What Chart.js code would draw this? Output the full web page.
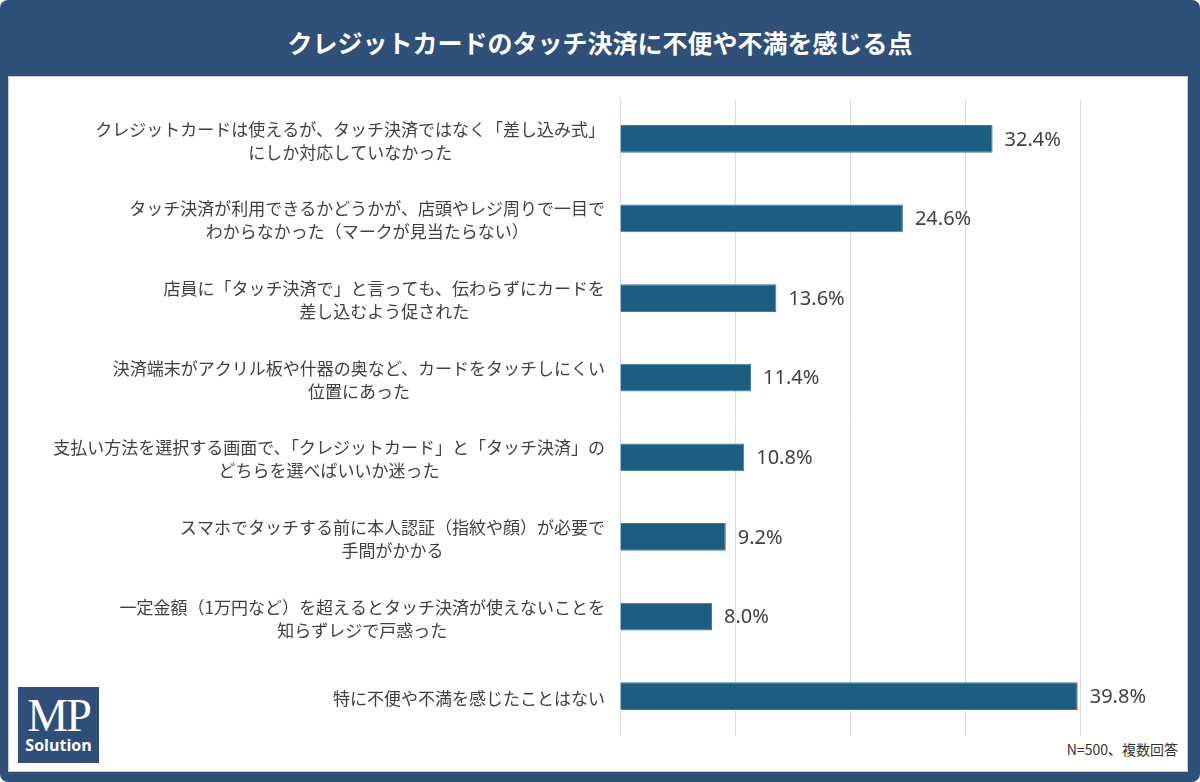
<!DOCTYPE html>
<html lang="ja">
<head>
<meta charset="utf-8">
<title>クレジットカードのタッチ決済に不便や不満を感じる点</title>
<script src="https://cdn.jsdelivr.net/npm/chart.js@4.4.1/dist/chart.umd.min.js"></script>
<style>
    html, body {
        margin: 0;
        padding: 0;
        background: #ffffff;
        font-family: "Noto Sans CJK JP", "Noto Sans", sans-serif;
    }
    #frame {
        position: relative;
        width: 1200px;
        height: 782px;
        background: #2f5078;
        border-radius: 8px;
        overflow: hidden;
    }
    #titulo {
        position: absolute;
        left: 0;
        top: 0;
        width: 1200px;
        height: 76px;
        line-height: 84px;
        text-align: center;
        color: #ffffff;
        font-size: 25px;
        font-weight: bold;
    }
    #panel {
        position: absolute;
        left: 8px;
        top: 76px;
        width: 1180px;
        height: 696px;
        background: #ffffff;
        border: 1px solid #c8ccd2;
        box-sizing: border-box;
    }
    #logo {
        position: absolute;
        left: 18px;
        top: 687px;
        width: 81px;
        height: 76px;
        background: #2f4f7a;
        color: #ffffff;
        text-align: center;
    }
    #logo .mp {
        font-family: "Liberation Serif", "DejaVu Serif", serif;
        font-size: 46px;
        line-height: 46px;
        margin-top: 6px;
        letter-spacing: -2px;
    }
    #logo .sol {
        font-family: "Open Sans", "Noto Sans", sans-serif;
        font-weight: bold;
        font-size: 16px;
        line-height: 18px;
        margin-top: -3px;
    }
    #nota {
        position: absolute;
        right: 22px;
        top: 739px;
        font-size: 14px;
        color: #333333;
    }
    #grafico {
        position: absolute;
        left: 0;
        top: 0;
    }
</style>
</head>
<body>
<div id="frame">
    <div id="titulo">クレジットカードのタッチ決済に不便や不満を感じる点</div>
    <div id="panel"></div>
    <div id="logo"><div class="mp">MP</div><div class="sol">Solution</div></div>
    <div id="nota">N=500、複数回答</div>
    <canvas id="grafico" width="1200" height="782"></canvas>
</div>

<script>
// categorias (cada una en lineas)
const categorias = [
    ["クレジットカードは使えるが、タッチ決済ではなく「差し込み式」", "にしか対応していなかった"],
    ["タッチ決済が利用できるかどうかが、店頭やレジ周りで一目で", "わからなかった（マークが見当たらない）"],
    ["店員に「タッチ決済で」と言っても、伝わらずにカードを", "差し込むよう促された"],
    ["決済端末がアクリル板や什器の奥など、カードをタッチしにくい", "位置にあった"],
    ["支払い方法を選択する画面で、「クレジットカード」と「タッチ決済」の", "どちらを選べばいいか迷った"],
    ["スマホでタッチする前に本人認証（指紋や顔）が必要で", "手間がかかる"],
    ["一定金額（1万円など）を超えるとタッチ決済が使えないことを", "知らずレジで戸惑った"],
    ["特に不便や不満を感じたことはない"]
];

// porcentajes
const valores = [32.4, 24.6, 13.6, 11.4, 10.8, 9.2, 8.0, 39.8];

// eje x (0-40, sin etiquetas visibles)
const ejeMin = 0;
const ejeMax = 40;
const ejePaso = 10;

const colorBarra = '#1b5e82';
const colorTexto = '#404040';

// Dibuja las etiquetas de categoria y los valores
const etiquetasPlugin = {
    id: 'etiquetas',
    afterDatasetsDraw(chart) {
        const ctx = chart.ctx;
        const yScale = chart.scales.y;
        const meta = chart.getDatasetMeta(0);

        ctx.save();
        ctx.fillStyle = colorTexto;

        // valores a la derecha de cada barra
        ctx.font = '20px "Noto Sans", "Open Sans", sans-serif';
        ctx.textAlign = 'left';
        ctx.textBaseline = 'middle';
        meta.data.forEach((bar, i) => {
            ctx.fillText(valores[i].toFixed(1) + '%', bar.x + 12, bar.y + 1);
        });

        // categorias: bloque alineado a la derecha, lineas centradas entre si
        ctx.font = '17px "Noto Sans CJK JP", sans-serif';
        ctx.textAlign = 'center';
        const derecha = 605;
        const alto = 23;
        categorias.forEach((lineas, i) => {
            const yc = yScale.getPixelForValue(i) + 2;
            let ancho = 0;
            lineas.forEach(l => { ancho = Math.max(ancho, ctx.measureText(l).width); });
            const xc = derecha - ancho / 2;
            const y0 = yc - (lineas.length - 1) * alto / 2;
            lineas.forEach((l, j) => {
                ctx.fillText(l, xc, y0 + j * alto);
            });
        });
        ctx.restore();
    }
};

const ctx = document.getElementById('grafico').getContext('2d');
new Chart(ctx, {
    type: 'bar',
    data: {
        labels: categorias.map(c => c.join('')),
        datasets: [{
            data: valores,
            backgroundColor: colorBarra,
            borderColor: '#3f7a9c',
            borderWidth: 1,
            categoryPercentage: 1,
            barPercentage: 0.35
        }]
    },
    options: {
        indexAxis: 'y',
        responsive: false,
        animation: false,
        layout: {
            padding: { left: 620, right: 120, top: 99, bottom: 46 }
        },
        plugins: {
            legend: { display: false },
            tooltip: { enabled: false }
        },
        scales: {
            x: {
                min: ejeMin,
                max: ejeMax,
                ticks: { display: false, stepSize: ejePaso },
                grid: { color: '#dcdce0', lineWidth: 1, drawTicks: false },
                border: { display: false }
            },
            y: {
                display: false
            }
        }
    },
    plugins: [etiquetasPlugin]
});
</script>
</body>
</html>
